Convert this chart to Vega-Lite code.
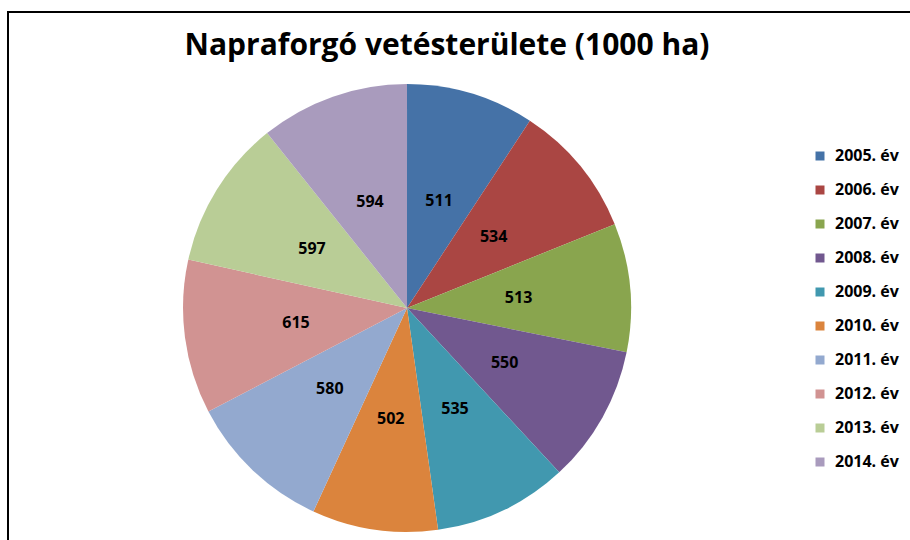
{
  "$schema": "https://vega.github.io/schema/vega-lite/v6.json",
  "autosize": "none",
  "width": 904,
  "height": 530,
  "padding": {"left": 8, "top": 12, "right": 0, "bottom": 0},
  "background": "white",
  "view": {"stroke": "#000000", "strokeWidth": 2, "fill": "white"},
  "config": {
    "view": {"stroke": "#000000", "strokeWidth": 2},
    "font": "Open Sans"
  },
  "title": {
    "text": "Napraforgó vetésterülete (1000 ha)",
    "font": "Open Sans",
    "fontSize": 30,
    "fontWeight": "bold",
    "color": "#000000",
    "anchor": "middle",
    "offset": 0,
    "baseline": "alphabetic",
    "dy": 73,
    "dx": -13
  },
  "data": {
    "values": [
      {"ev": "2005. év", "ertek": 511},
      {"ev": "2006. év", "ertek": 534},
      {"ev": "2007. év", "ertek": 513},
      {"ev": "2008. év", "ertek": 550},
      {"ev": "2009. év", "ertek": 535},
      {"ev": "2010. év", "ertek": 502},
      {"ev": "2011. év", "ertek": 580},
      {"ev": "2012. év", "ertek": 615},
      {"ev": "2013. év", "ertek": 597},
      {"ev": "2014. év", "ertek": 594}
    ]
  },
  "encoding": {
    "theta": {"field": "ertek", "type": "quantitative", "stack": true},
    "order": {"field": "ev", "type": "ordinal", "sort": "ascending"}
  },
  "layer": [
    {
      "mark": {"type": "arc", "outerRadius": 224, "x": {"expr": "width*0.4414"}, "y": {"expr": "height*0.5585"}},
      "encoding": {
        "color": {
          "field": "ev",
          "type": "nominal",
          "sort": null,
          "scale": {
            "domain": ["2005. év","2006. év","2007. év","2008. év","2009. év","2010. év","2011. év","2012. év","2013. év","2014. év"],
            "range": ["#4572A7","#AA4643","#89A54E","#71588F","#4198AF","#DB843D","#93A9CF","#D19392","#B9CD96","#A99BBD"]
          },
          "legend": {
            "title": null,
            "orient": "none",
            "legendX": 804,
            "legendY": 136,
            "padding": 0,
            "symbolType": "square",
            "symbolSize": 81,
            "symbolStrokeWidth": 0,
            "labelFont": "Open Sans",
            "labelFontSize": 16,
            "labelFontWeight": "bold",
            "labelColor": "#000000",
            "labelOffset": 7,
            "rowPadding": 18
          }
        }
      }
    },
    {
      "mark": {"type": "text", "radius": 112, "x": {"expr": "width*0.4414"}, "y": {"expr": "height*0.5585"}, "font": "Open Sans", "fontSize": 16, "fontWeight": "bold", "color": "#000000"},
      "encoding": {
        "text": {"field": "ertek", "type": "quantitative"}
      }
    }
  ]
}
